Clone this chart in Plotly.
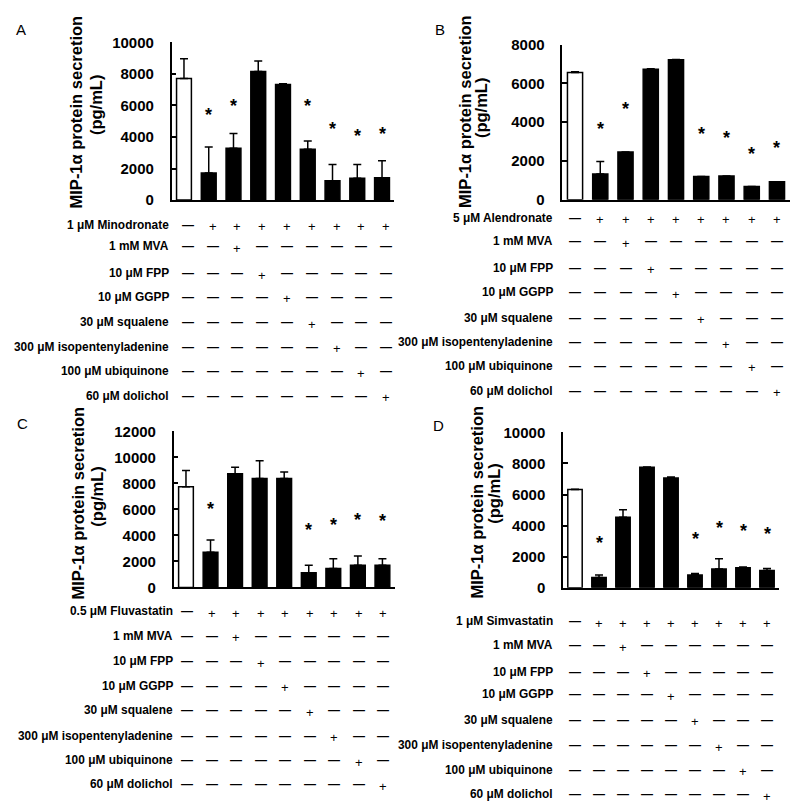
import plotly.graph_objects as go

W, H = 800, 807

# ---------------- data ----------------
groups = list(range(9))

vals_A = [7720, 1720, 3290, 8160, 7330, 3230, 1220, 1390, 1410]
err_A = [1240, 1650, 930, 660, 50, 520, 1040, 870, 1090]
star_A = [None, 4780, 5340, None, None, 5340, 3850, 3400, 3540]

vals_B = [6570, 1330, 2470, 6730, 7220, 1200, 1230, 690, 930]
err_B = [40, 640, 0, 30, 20, 0, 0, 0, 0]
star_B = [None, 3160, 4190, None, None, 2860, 2690, 1850, 2140]

vals_C = [7740, 2710, 8740, 8370, 8370, 1130, 1460, 1710, 1710]
err_C = [1250, 930, 510, 1380, 500, 580, 750, 700, 500]
star_C = [None, 5230, None, None, None, 3640, 4020, 4400, 4350]

vals_D = [6320, 650, 4540, 7750, 7060, 820, 1200, 1280, 1110]
err_D = [20, 170, 480, 20, 60, 100, 670, 60, 130]
star_D = [None, 2230, None, None, None, 2500, 3190, 3000, 2830]

common_rows = ["1 mM MVA", "10 μM FPP", "10 μM GGPP", "30 μM squalene",
               "300 μM isopentenyladenine", "100 μM ubiquinone", "60 μM dolichol"]
drug_A = "1 μM Minodronate"
drug_B = "5 μM Alendronate"
drug_C = "0.5 μM Fluvastatin"
drug_D = "1 μM Simvastatin"

ymax = {"A": 10000, "B": 8000, "C": 12000, "D": 10000}
y_title1 = "MIP-1α protein secretion"
y_title2 = "(pg/mL)"

# treatment matrix: row 0 -> drug in all but control, row i -> supplement in column i+1
def sign_matrix():
    m = [["—"] + ["+"] * 8]
    for i in range(1, 8):
        m.append(["+" if c == i + 1 else "—" for c in range(9)])
    return m

# ---------------- layout helpers ----------------
def px(x):
    return x / W

def py(y):
    return 1 - y / H

FONT = "Arial, Liberation Sans, sans-serif"

panels = {
    "A": dict(vals=vals_A, err=err_A, star=star_A, drug=drug_A,
              xd=(163.6, 386.4), yd=(26, 187),
              t1=(67.5, 97), t2=(88, 90), letter=(13, 13),
              rows=[212, 234, 262, 286, 312, 337, 362, 387], lab_r=163, xshift=4),
    "B": dict(vals=vals_B, err=err_B, star=star_B, drug=drug_B,
              xd=(554.4, 781.6), yd=(28.3, 186.7),
              t1=(457, 97), t2=(473, 93), letter=(432, 13),
              rows=[205, 229, 256, 281, 307, 332, 356, 382], lab_r=547, xshift=0),
    "C": dict(vals=vals_C, err=err_C, star=star_C, drug=drug_C,
              xd=(165.7, 386.7), yd=(423.3, 582.7),
              t1=(70, 497), t2=(89, 490), letter=(14, 415),
              rows=[607, 632, 658, 683, 708, 734, 759, 784], lab_r=167, xshift=1),
    "D": dict(vals=vals_D, err=err_D, star=star_D, drug=drug_D,
              xd=(555, 771), yd=(424.3, 583),
              t1=(469, 496), t2=(486, 487), letter=(430, 417),
              rows=[617, 642, 669, 692, 718, 744, 769, 794], lab_r=547, xshift=0),
}

fig = go.Figure()
annotations = []
layout_axes = {}

for k, (name, p) in enumerate(panels.items(), start=1):
    xa = "x" if k == 1 else f"x{k}"
    ya = "y" if k == 1 else f"y{k}"
    xkey = "xaxis" if k == 1 else f"xaxis{k}"
    ykey = "yaxis" if k == 1 else f"yaxis{k}"

    fig.add_trace(go.Bar(
        x=groups, y=p["vals"], xaxis=xa, yaxis=ya,
        width=0.6,
        marker=dict(color=["white"] + ["black"] * 8,
                    line=dict(color="black", width=1.5)),
        error_y=dict(type="data", symmetric=False, array=p["err"],
                     arrayminus=[0] * 9, color="black", thickness=1.5, width=4),
        showlegend=False, hoverinfo="skip",
    ))

    layout_axes[xkey] = dict(
        domain=[px(p["xd"][0]), px(p["xd"][1])], range=[-0.5, 8.5],
        anchor=ya, showline=True, linecolor="black", linewidth=1.5,
        showticklabels=False, ticks="", showgrid=False, zeroline=False,
    )
    layout_axes[ykey] = dict(
        domain=[py(p["yd"][1]), py(p["yd"][0])], range=[0, ymax[name]],
        anchor=xa, dtick=2000, tickformat="d", showline=True,
        linecolor="black", linewidth=1.5,
        ticks="inside", ticklen=5, tickwidth=1.5, tickcolor="black",
        showgrid=False, zeroline=False, ticklabelstandoff=13,
        tickfont=dict(family=FONT, size=15, color="black", weight="bold"),
    )

    # significance stars
    for i, s in enumerate(p["star"]):
        if s is None:
            continue
        annotations.append(dict(
            x=i, y=s, xref=xa, yref=ya, text="*", showarrow=False,
            font=dict(family=FONT, size=18, color="black", weight="bold"),
            xanchor="center", yanchor="middle", yshift=10,
        ))

    # y titles (two lines)
    annotations.append(dict(
        x=px(p["t1"][0]), y=py(p["t1"][1]), xref="paper", yref="paper",
        text=y_title1, textangle=-90, showarrow=False,
        font=dict(family=FONT, size=16.5, color="black", weight="bold"),
        xanchor="center", yanchor="middle"))
    annotations.append(dict(
        x=px(p["t2"][0]), y=py(p["t2"][1]), xref="paper", yref="paper",
        text=y_title2, textangle=-90, showarrow=False,
        font=dict(family=FONT, size=16.5, color="black", weight="bold"),
        xanchor="center", yanchor="middle"))

    # panel letter
    annotations.append(dict(
        x=px(p["letter"][0]), y=py(p["letter"][1]), xref="paper", yref="paper",
        text=name, showarrow=False,
        font=dict(family=FONT, size=15, color="black"),
        xanchor="center", yanchor="middle"))

    # treatment table
    labels = [p["drug"]] + common_rows
    mat = sign_matrix()
    for r, ry in enumerate(p["rows"]):
        annotations.append(dict(
            x=px(p["lab_r"]), y=py(ry), xref="paper", yref="paper",
            text=labels[r], showarrow=False,
            font=dict(family=FONT, size=11.9, color="black", weight="bold"),
            xanchor="right", yanchor="middle"))
        for c in range(9):
            sym = mat[r][c]
            if sym == "+":
                f = dict(family=FONT, size=13, color="black")
                ys = -2
            else:
                f = dict(family=FONT, size=12, color="black", weight="bold")
                ys = 0
            annotations.append(dict(
                x=c, y=py(ry), xref=xa, yref="paper", text=sym, showarrow=False,
                font=f, xanchor="center", yanchor="middle",
                xshift=p["xshift"], yshift=ys))

fig.update_layout(
    width=W, height=H, margin=dict(l=0, r=0, t=0, b=0),
    paper_bgcolor="white", plot_bgcolor="white",
    annotations=annotations, bargap=0.4,
    **layout_axes,
)

fig.write_html("out.html")
